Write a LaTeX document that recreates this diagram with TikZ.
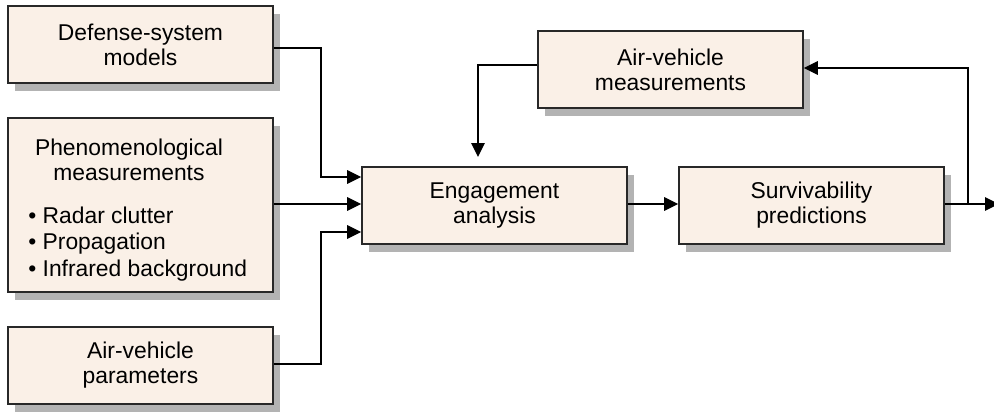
\documentclass[tikz,border=0pt]{standalone}
\usepackage{fontspec}
\setmainfont{Liberation Sans}
\usetikzlibrary{arrows.meta}
\definecolor{boxfill}{RGB}{250,240,231}
\definecolor{shadowgray}{RGB}{179,179,179}
\definecolor{edgegray}{RGB}{40,40,40}
\begin{document}
\begin{tikzpicture}[x=0.02cm,y=-0.02cm,
  box/.style={draw=edgegray, line width=0.9pt, fill=boxfill, minimum width=5.3cm, minimum height=1.54cm, inner sep=0pt, align=center, font=\fontsize{13}{14.3}\selectfont},
  shade/.style={fill=shadowgray, draw=none, minimum width=5.3cm, minimum height=1.54cm, inner sep=0pt},
  txt/.style={inner sep=0pt, font=\fontsize{13}{14.3}\selectfont},
  conn/.style={draw=black, line width=0.75pt},
  arr/.style={conn, -{Triangle[length=0.28cm,width=0.27cm]}}]

\useasboundingbox (0,0) rectangle (994,412);

% shadows
\node[shade] (s1) at (147.5,52.5) {};
\node[shade, minimum height=3.48cm] (s2) at (147.5,213) {};
\node[shade] (s3) at (147.5,373.5) {};
\node[shade] (s4) at (501.5,213.5) {};
\node[shade] (s5) at (818.5,213.5) {};
\node[shade] (s6) at (677.5,77.5) {};

% boxes
\node[box] (b1) at (140.5,44.5) {Defense-system\\models};
\node[box, minimum height=3.48cm] (b2) at (140.5,205) {};
\node[txt, align=center] (b2h) at (129,160) {Phenomenological\\measurements};
\node[txt, align=left, anchor=west, font=\fontsize{13}{15}\selectfont] (b2l) at (28,244) {\textbullet\ Radar clutter\\\textbullet\ Propagation\\\textbullet\ Infrared background};
\node[box] (b3) at (140.5,365.5) {Air-vehicle\\parameters};
\node[box] (eng) at (494.5,205.5) {Engagement\\analysis};
\node[box] (sur) at (811.5,205.5) {Survivability\\predictions};
\node[box] (avm) at (670.5,69.5) {Air-vehicle\\measurements};

% junction coordinates
\coordinate (j1) at (321,48);
\coordinate (j1b) at (321,177);
\coordinate (j3) at (321,364);
\coordinate (j3b) at (321,232);
\coordinate (jr) at (968,204);
\coordinate (jrt) at (968,68);
\coordinate (jl) at (478,65);
\coordinate (jlt) at (478,157);
\coordinate (out) at (999,204);

% connectors
\draw[arr] (b1.east |- j1) -- (j1) -- (j1b) -- (eng.west |- j1b);
\draw[arr] (b2.east |- 0,204) -- (eng.west |- 0,204);
\draw[arr] (b3.east |- j3) -- (j3) -- (j3b) -- (eng.west |- j3b);
\draw[arr] (eng.east |- 0,204) -- (sur.west |- 0,204);
\draw[arr] (sur.east |- jr) -- (out);
\draw[arr] (jr) -- (jrt) -- (avm.east |- jrt);
\draw[arr] (avm.west |- jl) -- (jl) -- (jlt);
\end{tikzpicture}
\end{document}
